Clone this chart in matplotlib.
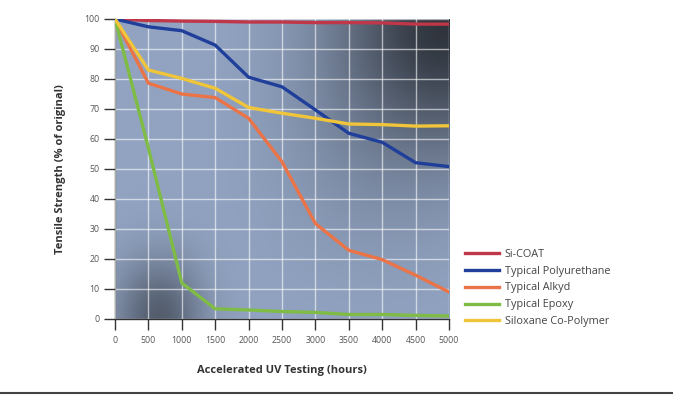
import numpy as np
import matplotlib.pyplot as plt
from matplotlib.lines import Line2D

# hours of accelerated UV testing
hours = [0, 500, 1000, 1500, 2000, 2500, 3000, 3500, 4000, 4500, 5000]

# tensile strength, % of original
si_coat = [100, 99.5, 99.3, 99.2, 99.0, 99.0, 98.8, 98.8, 98.7, 98.3, 98.3]
polyurethane = [100, 97.4, 96.1, 91.3, 80.6, 77.4, 69.7, 61.9, 58.9, 52.1, 50.8]
alkyd = [100, 78.6, 75.0, 73.8, 66.9, 52.4, 31.8, 22.9, 19.8, 14.6, 9.0]
epoxy = [100, 57.0, 12.0, 3.4, 3.0, 2.5, 2.2, 1.5, 1.5, 1.2, 1.0]
siloxane = [100, 83.0, 80.2, 76.9, 70.5, 68.6, 66.9, 65.0, 64.8, 64.3, 64.4]

series_names = ["Si-COAT", "Typical Polyurethane", "Typical Alkyd", "Typical Epoxy", "Siloxane Co-Polymer"]
series_colors = ["#c0374a", "#1f3f9a", "#ea7447", "#7fbc45", "#f0c53a"]

plt.rcParams['font.family'] = ['Open Sans', 'DejaVu Sans']

fig = plt.figure(figsize=(6.73, 4.01), dpi=100)
ax = fig.add_axes([115/673, 1-319/401, 334/673, 300/401])

# shaded photo-like background
gx, gy = np.meshgrid(np.linspace(0, 1, 200), np.linspace(0, 1, 200))
base = np.array([138, 156, 186]) / 255.0
dark_tr = np.exp(-(((gx-1.0)/0.33)**2 + ((gy-1.0)/0.42)**2))
dark_bl = np.exp(-(((gx-0.13)/0.13)**2 + ((gy-0.0)/0.2)**2))
mid = np.exp(-(((gx-0.75)/0.3)**2 + ((gy-0.55)/0.4)**2))
shade = 1 - 0.7*dark_tr - 0.45*dark_bl - 0.1*mid
img = np.clip(base[None, None, :] * shade[:, :, None] + 0.03, 0, 1)
ax.imshow(img, extent=[0, 5000, 0, 100], origin='lower', aspect='auto', zorder=0)

ax.set_xlim(0, 5000)
ax.set_ylim(0, 100)
ax.set_xticks(hours)
ax.set_yticks(range(0, 101, 10))
ax.grid(True, color='white', lw=1.0, alpha=0.6, zorder=1)
ax.set_axisbelow(False)

for vals, name, col in zip([si_coat, polyurethane, alkyd, epoxy, siloxane], series_names, series_colors):
    ax.plot(hours, vals, color=col, lw=2.4, label=name, zorder=3, solid_joinstyle='round')

for s in ['top', 'right']:
    ax.spines[s].set_visible(False)
for s in ['left', 'bottom']:
    ax.spines[s].set_color('#333333')
    ax.spines[s].set_linewidth(1)

ax.tick_params(axis='both', direction='out', length=8, width=1, color='#333333',
               labelsize=6.3, labelcolor='#555555')
ax.tick_params(axis='y', pad=3)
ax.tick_params(axis='x', pad=4)

ax.set_ylabel("Tensile Strength (% of original)", fontsize=8, fontweight='bold', color='#333333', labelpad=13)
ax.set_xlabel("Accelerated UV Testing (hours)", fontsize=8, fontweight='bold', color='#333333', labelpad=15)

handles = [Line2D([0], [0], color=c, lw=2.4) for c in series_colors]
fig.legend(handles, series_names, loc='upper left', bbox_to_anchor=(455/673, 1-239/401),
           frameon=False, fontsize=7.8, labelcolor='#444444', handlelength=3.2,
           handletextpad=0.5, labelspacing=0.54)

# rule across the bottom of the page
fig.add_artist(Line2D([0, 1], [1-393/401, 1-393/401], color='#444444', lw=1.5))

fig.savefig("out.png", dpi=100)
